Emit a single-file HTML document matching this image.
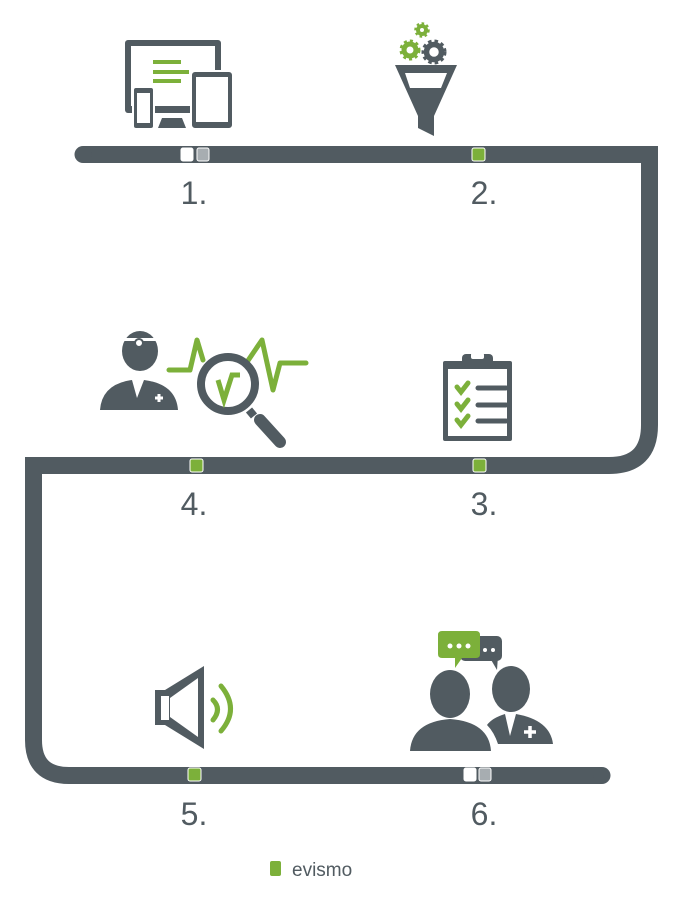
<html><head><style>body{margin:0;background:#fff}svg{display:block}</style></head><body>
<svg width="690" height="914" viewBox="0 0 690 914" xmlns="http://www.w3.org/2000/svg">
<g fill="none" stroke="#515b61" stroke-width="17">
<path d="M83 154.5 H649.5 V425 Q649.5 465.5 609 465.5 H33.5 V740 Q33.5 775.5 69 775.5 H602" stroke-linecap="butt"/>
</g>
<circle cx="83" cy="154.5" r="8.5" fill="#515b61"/>
<circle cx="602" cy="775.5" r="8.5" fill="#515b61"/>
<g stroke="#fff" stroke-width="1">
<rect x="181" y="148" width="12" height="13" rx="2" fill="#fff"/>
<rect x="197" y="148" width="12" height="13" rx="2" fill="#a7adb1"/>
<rect x="472" y="148" width="13" height="13" rx="2" fill="#7cb03a"/>
<rect x="190" y="459" width="13" height="13" rx="2" fill="#7cb03a"/>
<rect x="473" y="459" width="13" height="13" rx="2" fill="#7cb03a"/>
<rect x="188" y="768" width="13" height="13" rx="2" fill="#7cb03a"/>
<rect x="464" y="768" width="12" height="13" rx="2" fill="#fff"/>
<rect x="479" y="768" width="12" height="13" rx="2" fill="#a7adb1"/>
</g>
<g font-family="Liberation Sans, sans-serif" font-size="32" fill="#515b61" text-anchor="middle">
<text x="194" y="204">1.</text><text x="484" y="204">2.</text>
<text x="194" y="515">4.</text><text x="484" y="515">3.</text>
<text x="194" y="825">5.</text><text x="484" y="825">6.</text>
</g>
<rect x="270" y="861" width="11" height="15" rx="2" fill="#7cb03a"/>
<text x="292" y="876" font-family="Liberation Sans, sans-serif" font-size="19" fill="#515b61">evismo</text>
<!-- icon 1 -->
<g fill="#515b61">
<rect x="125" y="40" width="96" height="73" rx="3"/>
<rect x="131" y="46" width="84" height="60" fill="#fff"/>
<path d="M158 128 L162 118 H182 L186 128 Z"/>
<rect x="133" y="87" width="21" height="42" rx="3" stroke="#fff" stroke-width="2"/>
<rect x="137" y="93" width="13" height="30" fill="#fff"/>
<rect x="191" y="71" width="42" height="58" rx="4" stroke="#fff" stroke-width="2"/>
<rect x="196" y="77" width="32" height="45" fill="#fff"/>
</g>
<g fill="#7cb03a"><rect x="153" y="60" width="28" height="4"/><rect x="153" y="70" width="36" height="4"/><rect x="153" y="79" width="28" height="4"/></g>
<!-- icon 2 funnel -->
<path d="M395 65 H457 L434 116 V136 L418 128 V116 Z" fill="#515b61"/>
<path d="M405 73 H447 L441 88 H410 Z" fill="#fff"/>
<circle cx="410" cy="50" r="6" fill="none" stroke="#7cb03a" stroke-width="5"/>
<circle cx="410" cy="50" r="9" fill="none" stroke="#7cb03a" stroke-width="3" stroke-dasharray="3 3"/>
<circle cx="422" cy="30" r="4" fill="none" stroke="#7cb03a" stroke-width="4"/>
<circle cx="422" cy="30" r="6.5" fill="none" stroke="#7cb03a" stroke-width="2.5" stroke-dasharray="2.5 2.5"/>
<circle cx="434" cy="52" r="7.5" fill="none" stroke="#515b61" stroke-width="5.5"/>
<circle cx="434" cy="52" r="11" fill="none" stroke="#515b61" stroke-width="3" stroke-dasharray="3.5 3"/>
<!-- icon 4 -->
<g fill="#515b61">
<ellipse cx="140" cy="351" rx="18" ry="20"/>
<path d="M100 410 Q102 384 132 380 L137 398 L144 380 Q176 384 178 410 Z"/>
</g>
<rect x="119" y="338" width="40" height="3" fill="#fff"/>
<circle cx="139" cy="343" r="4" fill="#fff" stroke="#515b61" stroke-width="2"/>
<path d="M155 398 h8 M159 394 v8" stroke="#fff" stroke-width="3"/>
<path d="M169 370 H190 L197 340 L203 360 M247 362 L262 340 L273 390 L280 363 H306" fill="none" stroke="#7cb03a" stroke-width="5" stroke-linejoin="round" stroke-linecap="round"/>
<circle cx="228" cy="384" r="27" fill="#fff" stroke="#515b61" stroke-width="8"/>
<path d="M218 380 L224 400 L232 375 H240" fill="none" stroke="#7cb03a" stroke-width="5"/>
<path d="M249 410 L254 416" stroke="#515b61" stroke-width="8"/>
<path d="M260 420 L280 442" stroke="#515b61" stroke-width="12" stroke-linecap="round"/>
<!-- icon 3 clipboard -->
<rect x="443" y="361" width="69" height="80" rx="2" fill="#515b61"/>
<rect x="448" y="369" width="59" height="67" fill="#fff"/>
<rect x="462" y="354" width="31" height="13" rx="4" fill="#515b61"/>
<rect x="471" y="353" width="13" height="6" rx="2" fill="#fff"/>
<g stroke="#515b61" stroke-width="5" stroke-linecap="round"><path d="M478 388 H506 M478 405 H506 M478 421 H506"/></g>
<g fill="none" stroke="#7cb03a" stroke-width="5" stroke-linecap="round"><path d="M457 387 l4 5 l7 -9 M457 404 l4 5 l7 -9 M457 420 l4 5 l7 -9"/></g>
<!-- icon 5 speaker -->
<path d="M155 690 H165 L204 666 V749 L165 725 H155 Z" fill="#515b61"/>
<rect x="161" y="696" width="8" height="24" fill="#fff"/>
<path d="M170 698 L198 678 V737 L170 717 Z" fill="#fff"/>
<path d="M213 700 Q222 709 213 720 M221 686 Q240 709 221 731" fill="none" stroke="#7cb03a" stroke-width="5" stroke-linecap="round"/>
<!-- icon 6 -->
<g fill="#515b61">
<rect x="460" y="636" width="42" height="25" rx="5"/><path d="M490 658 L497 670 L498 656 Z"/>
<ellipse cx="450" cy="694" rx="20" ry="24"/>
<path d="M410 751 Q412 722 450 719 Q489 722 491 751 Z"/>
<ellipse cx="511" cy="689" rx="19" ry="23"/>
<path d="M487 725 Q492 718 505 714 L510 736 L516 714 Q550 720 553 744 H498 Q494 732 487 725 Z"/>
</g>
<path d="M524 732 h12 M530 726 v12" stroke="#fff" stroke-width="3.5"/>
<path d="M438 631 H476 Q480 631 480 635 V654 Q480 658 476 658 H462 L455 668 V658 H442 Q438 658 438 654 V635 Q438 631 442 631 Z" fill="#7cb03a"/>
<g fill="#fff"><circle cx="450" cy="646" r="2.5"/><circle cx="459" cy="646" r="2.5"/><circle cx="468" cy="646" r="2.5"/><circle cx="485" cy="650" r="2"/><circle cx="493" cy="650" r="2"/></g>
</svg>
</body></html>
